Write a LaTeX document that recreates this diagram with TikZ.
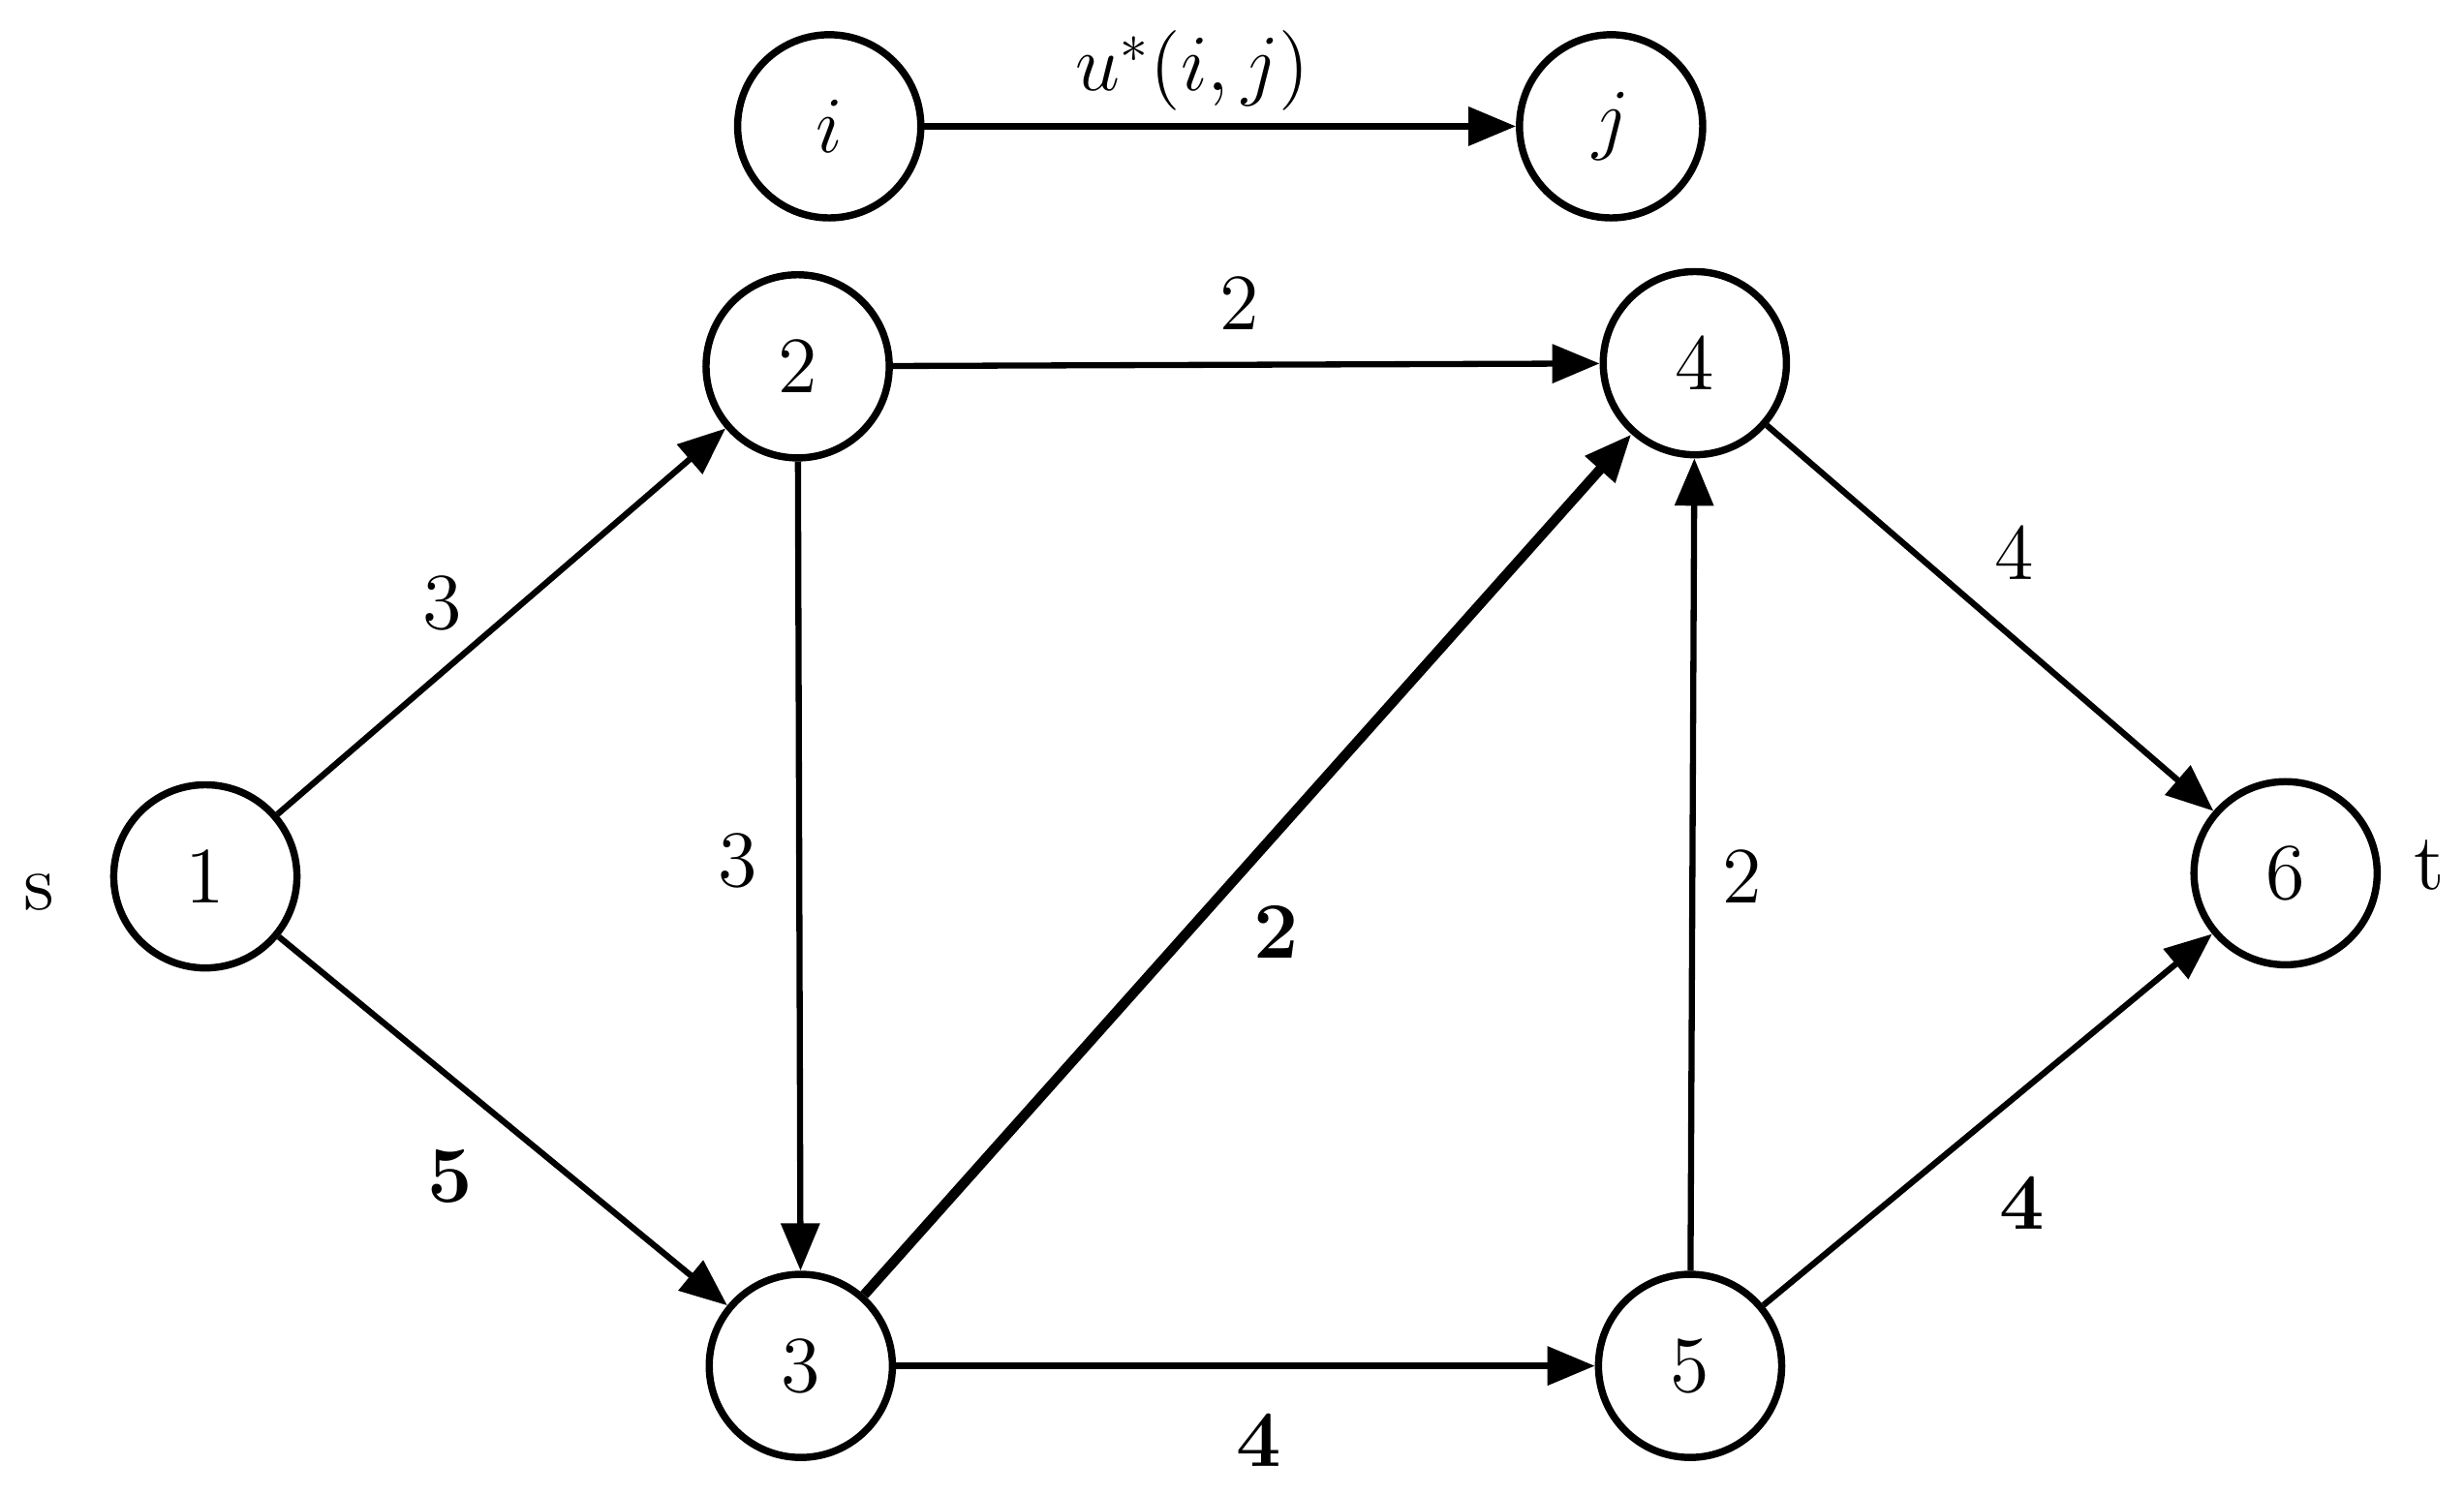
\documentclass[tikz,border=0pt]{standalone}
\usepackage{amsmath}
\usetikzlibrary{arrows.meta, positioning}
\tikzset{
  vertex/.style={circle, draw, line width=1.3pt, minimum size=1.16cm, inner sep=0pt, font=\Large},
  edge/.style={-{Triangle[length=0.3cm,width=0.24cm]}, line width=1.1pt},
  capacity/.style={font=\Large}
}
\begin{document}
\begin{tikzpicture}
\useasboundingbox (0,0) rectangle (15.6,9.47);
% legend
\node[vertex] (ni) at (5.25,8.67) {$i$};
\node[vertex] (nj) at (10.2,8.67) {$j$};
\draw[edge] (ni) -- (nj);
\node[capacity] (lu) at (7.55,9.02) {$u^{*}(i,j)$};
% network
\node[vertex] (n1) at (1.3,3.92) {1};
\node[vertex] (n2) at (5.05,7.15) {2};
\node[vertex] (n3) at (5.07,0.82) {3};
\node[vertex] (n4) at (10.73,7.17) {4};
\node[vertex] (n5) at (10.7,0.82) {5};
\node[vertex] (n6) at (14.47,3.94) {6};
\node[capacity] (ls) at (0.25,3.82) {s};
\node[capacity] (lt) at (15.38,3.99) {t};
\draw[edge] (n1) -- (n2);
\draw[edge] (n1) -- (n3);
\draw[edge] (n2) -- (n4);
\draw[edge] (n2) -- (n3);
\draw[edge, line width=1.8pt] (n3) -- (n4);
\draw[edge] (n3) -- (n5);
\draw[edge] (n5) -- (n4);
\draw[edge] (n4) -- (n6);
\draw[edge] (n5) -- (n6);
% capacities
\node[capacity] (c24) at (7.85,7.55) {2};
\node[capacity] (c12) at (2.8,5.65) {3};
\node[capacity] (c23) at (4.67,4.02) {3};
\node[capacity] (c34) at (8.08,3.57) {\textbf{2}};
\node[capacity] (c13) at (2.85,2.02) {\textbf{5}};
\node[capacity] (c54) at (11.03,3.92) {2};
\node[capacity] (c46) at (12.75,5.97) {4};
\node[capacity] (c56) at (12.8,1.85) {\textbf{4}};
\node[capacity] (c35) at (7.97,0.35) {\textbf{4}};
\end{tikzpicture}
\end{document}
